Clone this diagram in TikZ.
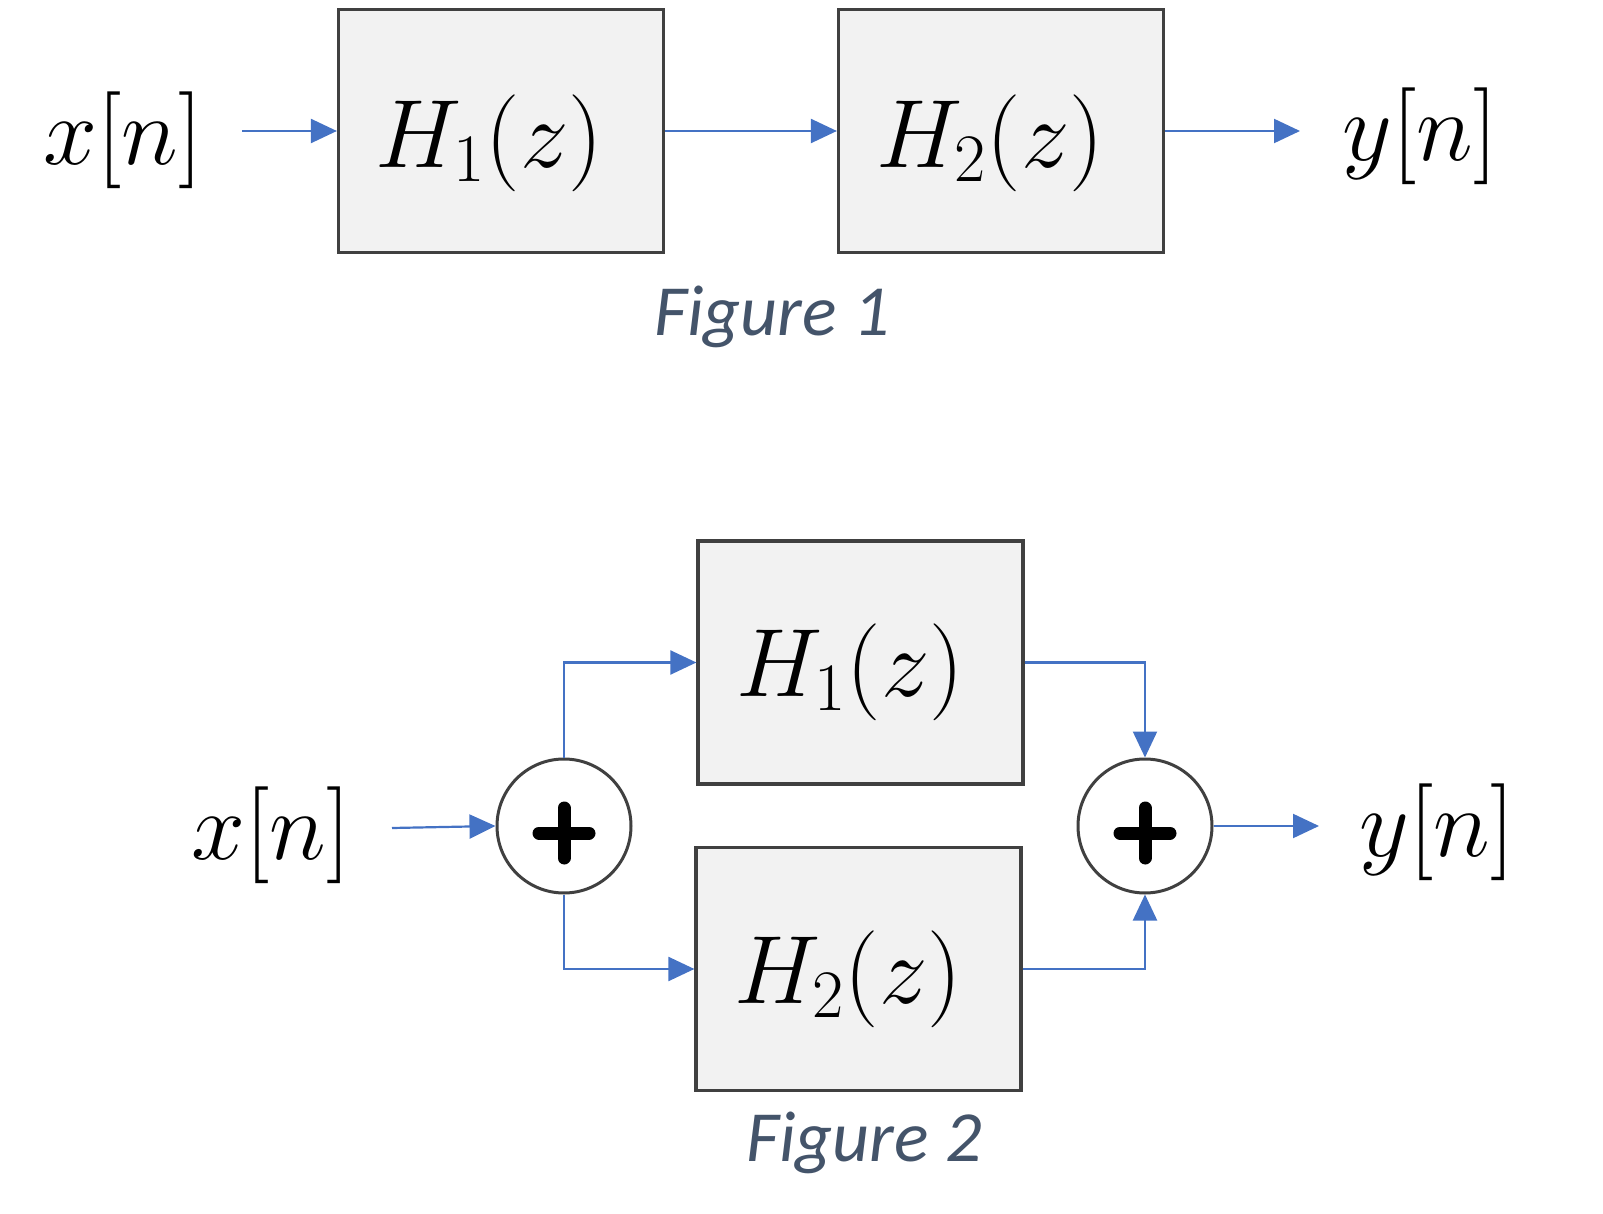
\RequirePackage{fix-cm}
\documentclass[tikz,border=0pt]{standalone}
\usepackage{fontspec}
\newfontfamily\capfont{Carlito}
\usetikzlibrary{arrows.meta}
\definecolor{sigblue}{HTML}{4472C4}
\definecolor{boxgray}{HTML}{F2F2F2}
\definecolor{edgegray}{HTML}{404040}
\definecolor{capcol}{HTML}{44546A}
\begin{document}
\begin{tikzpicture}[x=0.5pt,y=-0.5pt,
  blk/.style={draw=edgegray, fill=boxgray, line width=1.6pt, minimum width=162.5pt, minimum height=121.5pt, inner sep=0pt},
  sumc/.style={circle, draw=edgegray, line width=1.5pt, fill=white, minimum size=67pt, inner sep=0pt},
  sig/.style={inner sep=0pt, font=\fontsize{48.5}{52}\selectfont},
  figcaption/.style={inner sep=0pt, font=\capfont\itshape\fontsize{36}{40}\selectfont, text=capcol},
  arr/.style={draw=sigblue, line width=1.1pt, -{Triangle[length=13pt,width=12pt]}},
  plusbar/.style={line width=6.5pt, line cap=round, black},
]
\useasboundingbox (0,0) rectangle (1603,1214);

% ---------- Figure 1 ----------
\node[blk] (b1) at (501,131) {};
\node[blk] (b2) at (1001,131) {};
\node[sig] (t1) at (489,143) {$H_1(z)$};
\node[sig] (t2) at (990,143) {$H_2(z)$};
\node[sig] (x1) at (123,140) {$x[n]$};
\node[sig] (y1) at (1420,136) {$y[n]$};
\coordinate (x1o) at (242,131);
\coordinate (y1i) at (1300,131);
\draw[arr] (x1o) -- (b1.west);
\draw[arr] (b1.east) -- (b2.west);
\draw[arr] (b2.east) -- (y1i);
\node[figcaption] (c1) at (772,317) {Figure 1};

% ---------- Figure 2 ----------
\node[blk] (h1) at (860.5,662.5) {};
\node[blk] (h2) at (858.5,969) {};
\node[sig] (th1) at (850,672) {$H_1(z)$};
\node[sig] (th2) at (848,979) {$H_2(z)$};
\node[sumc] (s1) at (564,826) {};
\node[sumc] (s2) at (1145,826) {};
\draw[plusbar] ([xshift=-12.5pt,yshift=-3.5pt]s1.center) -- ([xshift=12.5pt,yshift=-3.5pt]s1.center);
\draw[plusbar] ([yshift=9pt]s1.center) -- ([yshift=-16pt]s1.center);
\draw[plusbar] ([xshift=-12.5pt,yshift=-3.5pt]s2.center) -- ([xshift=12.5pt,yshift=-3.5pt]s2.center);
\draw[plusbar] ([yshift=9pt]s2.center) -- ([yshift=-16pt]s2.center);
\node[sig] (x2) at (271,835) {$x[n]$};
\node[sig] (y2) at (1437,832) {$y[n]$};
\coordinate (x2o) at (392,828);
\coordinate (y2i) at (1319,826);
\draw[arr] (x2o) -- (s1.west);
\draw[arr] (s1.north) |- (h1.west);
\draw[arr] (s1.south) |- (h2.west);
\draw[arr] (h1.east) -| (s2.north);
\draw[arr] (h2.east) -| (s2.south);
\draw[arr] (s2.east) -- (y2i);
\node[figcaption] (c2) at (864,1143) {Figure 2};
\end{tikzpicture}
\end{document}
